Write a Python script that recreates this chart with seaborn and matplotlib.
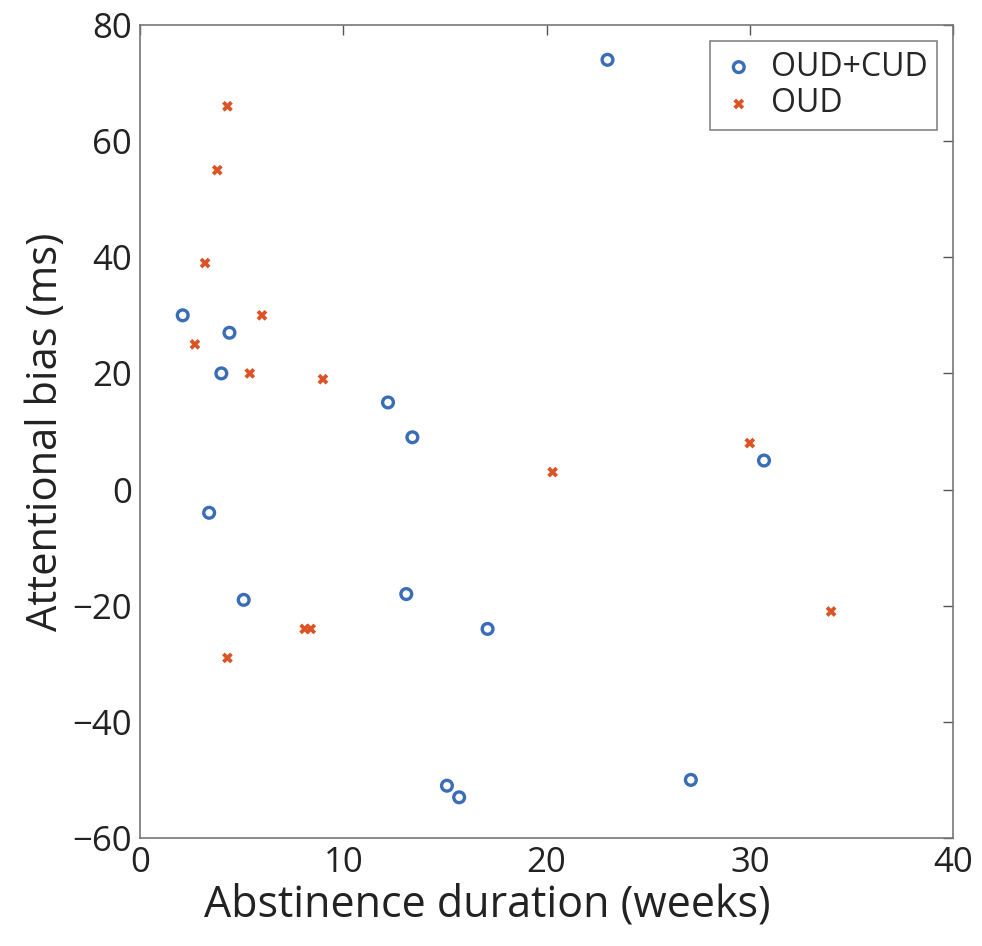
import pandas as pd
import matplotlib
matplotlib.use('Agg')
import matplotlib.pyplot as plt
import seaborn as sns

# 数据
cud_x = [23.0, 2.1, 4.4, 4.0, 3.4, 5.1, 12.2, 13.4, 13.1, 17.1, 15.1, 15.7, 27.1, 30.7]
cud_y = [74, 30, 27, 20, -4, -19, 15, 9, -18, -24, -51, -53, -50, 5]
oud_x = [4.3, 3.8, 3.2, 2.7, 6.0, 5.4, 9.0, 8.1, 8.4, 4.3, 20.3, 30.0, 34.0]
oud_y = [66, 55, 39, 25, 30, 20, 19, -24, -24, -29, 3, 8, -21]

df = pd.concat([
    pd.DataFrame({'x': cud_x, 'y': cud_y, 'group': 'OUD+CUD'}),
    pd.DataFrame({'x': oud_x, 'y': oud_y, 'group': 'OUD'}),
], ignore_index=True)

sns.set_style('white')
plt.rcParams['font.family'] = ['Open Sans', 'DejaVu Sans']
plt.rcParams['axes.unicode_minus'] = True

fig = plt.figure(figsize=(9.82, 9.46), dpi=100)
ax = fig.add_axes([0.1426, 0.1142, 0.8279, 0.8594])

blue = '#3a6db8'
red = '#dc5426'
sns.scatterplot(data=df[df['group'] == 'OUD+CUD'], x='x', y='y', ax=ax,
                marker='o', s=60, facecolors='none', edgecolor=blue,
                linewidth=2.4, label='OUD+CUD')
sns.scatterplot(data=df[df['group'] == 'OUD'], x='x', y='y', ax=ax,
                marker='X', s=60, color=red, edgecolor='none', label='OUD')

ax.set_xlim(0, 40)
ax.set_ylim(-60, 80)
ax.set_xticks([0, 10, 20, 30, 40])
ax.set_yticks(range(-60, 81, 20))
ax.tick_params(direction='in', length=7, width=1, labelsize=25, colors='#555555',
               labelcolor='#222222', top=True, right=True, pad=6)
for s in ax.spines.values():
    s.set_color('#777777')
    s.set_linewidth(1.2)
ax.set_xlabel('Abstinence duration (weeks)', fontsize=31, color='#222222', labelpad=2)
ax.xaxis.set_label_coords(0.427, -0.055)
ax.set_ylabel('Attentional bias (ms)', fontsize=30, color='#222222', labelpad=4)

leg = ax.legend(loc='upper right', fontsize=23, frameon=True, fancybox=False,
                handletextpad=0.4, borderaxespad=0.5, handlelength=1.2,
                labelspacing=0.12, borderpad=0.3)
leg.get_frame().set_edgecolor('#666666')
leg.get_frame().set_linewidth(1.2)

plt.savefig('out.png', dpi=100)
